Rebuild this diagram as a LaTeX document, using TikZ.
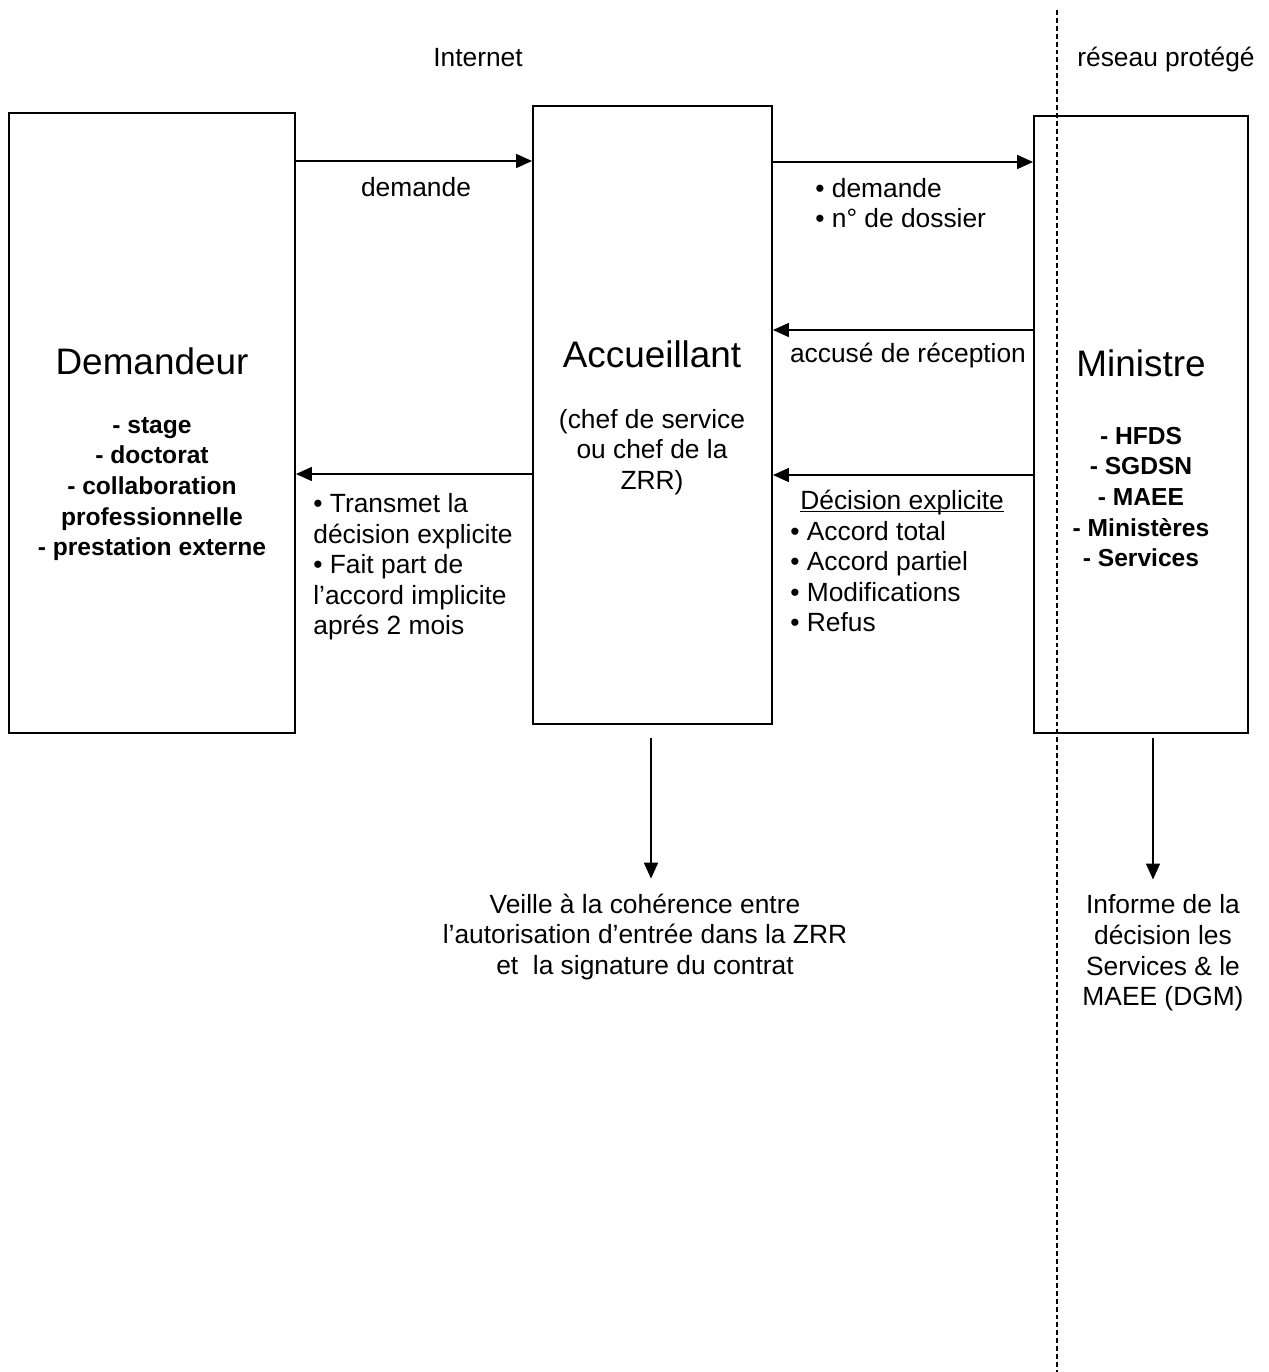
\documentclass[tikz,border=0pt]{standalone}
\usepackage{fontspec}
\setmainfont{Liberation Sans}
\usetikzlibrary{arrows.meta}
\newcommand{\txt}{\fontsize{15}{17.4}\selectfont}
\newcommand{\txtb}{\fontsize{14}{17.4}\selectfont\bfseries}
\newcommand{\ttl}{\fontsize{21}{25}\selectfont}
\newcommand{\lowline}[1]{\setbox0\hbox{#1}\rlap{\rule[-1.6pt]{\wd0}{0.7pt}}\box0}

\begin{document}
\begin{tikzpicture}[x=0.02cm, y=-0.02cm,
  box/.style={draw, line width=1.1pt, inner sep=0pt},
  lbl/.style={inner sep=0pt, font=\txt},
  arr/.style={line width=0.9pt, -{Triangle[length=0.32cm,width=0.28cm]}}]
\useasboundingbox (0,0) rectangle (1268,1372);

\node[box, minimum width=5.72cm, minimum height=12.4cm] (dem) at (152,423) {};
\node[box, minimum width=4.78cm, minimum height=12.36cm] (acc) at (652.5,415) {};
\node[box, minimum width=4.28cm, minimum height=12.34cm] (min) at (1141,424.5) {};

\coordinate (dtop) at (1057,10);
\coordinate (dbot) at (1057,1372);
\draw[line width=1.2pt, dash pattern=on 2.8pt off 1.7pt] (dtop) -- (dbot);

\node[lbl] (internet) at (478,58) {Internet};
\node[lbl] (reseau) at (1166,60) {réseau protégé};

\node[lbl, font=\ttl] (demt) at (152,361) {Demandeur};
\node[lbl, font=\txtb, align=center] (deml) at (152,489) {- stage\\- doctorat\\- collaboration\\professionnelle\\- prestation externe};
\node[lbl, font=\ttl] (acct) at (652,354) {Accueillant};
\node[lbl, align=center] (accl) at (652,452) {(chef de service\\ou chef de la\\ZRR)};
\node[lbl, font=\ttl] (mint) at (1141,363) {Ministre};
\node[lbl, font=\txtb, align=center] (minl) at (1141,497) {- HFDS\\- SGDSN\\- MAEE\\- Ministères\\- Services};

\draw[arr] (dem.east |- 0,161) -- (acc.west |- 0,161);
\node[lbl] (l1) at (416,187) {demande};
\draw[arr] (acc.east |- 0,162) -- (min.west |- 0,162);
\node[lbl, anchor=west, align=left] (l2) at (815,203) {\textbullet{} demande\\\textbullet{} n° de dossier};
\draw[arr] (min.west |- 0,330) -- (acc.east |- 0,330);
\node[lbl] (l3) at (908,356) {accusé de réception};
\draw[arr] (min.west |- 0,475) -- (acc.east |- 0,475);
\node[lbl, anchor=west, align=left] (l4) at (790,561) {\hspace*{0.2cm}\lowline{Décision explicite}\\\textbullet{} Accord total\\\textbullet{} Accord partiel\\\textbullet{} Modifications\\\textbullet{} Refus};
\draw[arr] (acc.west |- 0,474) -- (dem.east |- 0,474);
\node[lbl, anchor=west, align=left] (l5) at (313,567) {\textbullet{} Transmet la\\décision explicite\\\textbullet{} Fait part de\\l'accord implicite\\aprés 2 mois};

\node[lbl, align=center] (veille) at (645,937) {Veille à la cohérence entre\\l’autorisation d’entrée dans la ZRR\\et\ \ la signature du contrat};
\node[lbl, align=center] (informe) at (1163,953) {Informe de la\\décision les\\Services \& le\\MAEE (DGM)};
\draw[arr, shorten <=0.26cm, shorten >=0.3cm] (acc.south -| 651,0) -- (veille.north -| 651,0);
\draw[arr, shorten <=0.08cm, shorten >=0.3cm] (min.south -| 1153,0) -- (informe.north -| 1153,0);
\end{tikzpicture}
\end{document}
